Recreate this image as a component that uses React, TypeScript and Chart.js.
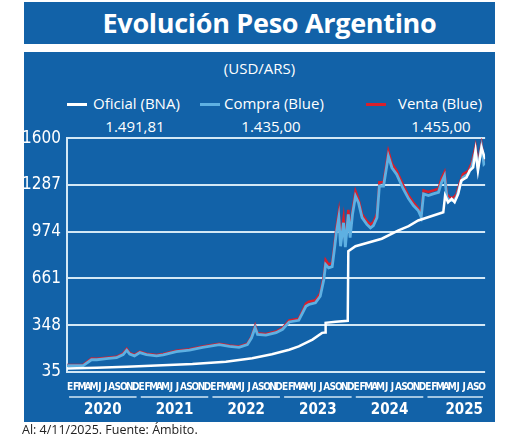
import React, { useEffect, useRef } from "react";
import { Chart, registerables } from "chart.js";

Chart.register(...registerables);

// ---- data ----
const monthLetters = ["E","F","M","A","M","J","J","A","S","O","N","D"];
const years = ["2020", "2021", "2022", "2023", "2024", "2025"];
const yearMonthCounts = [12, 12, 12, 12, 12, 10];
const yTicks = [35, 348, 661, 974, 1287, 1600];

const seriesNames = ["Oficial (BNA)", "Compra (Blue)", "Venta (Blue)"];
const lastValues = ["1.491,81", "1.435,00", "1.455,00"];

// x = months elapsed since 1 Jan 2020
const oficialMonths = [0, 5, 10, 15, 21, 26.6, 31, 34.3, 37.2, 38.8, 41.1, 42.7, 43.2, 43.3, 45, 47.0, 47.1, 48.3, 52.7, 55.5, 57.2, 58.8, 63.0, 63.3, 63.8, 64.4, 64.9, 65.5, 66.0, 66.9, 67.4, 68.0, 68.4, 68.8, 69.4, 70];
const oficialValues = [58, 63, 70, 78, 88, 104, 127, 154, 184, 206, 252, 297, 300, 364, 372, 378, 844, 877, 927, 983, 1011, 1049, 1104, 1216, 1171, 1194, 1171, 1227, 1316, 1338, 1382, 1404, 1515, 1382, 1537, 1460];

const blueMonths = [0, 2.7, 4.1, 5.0, 6.6, 8.3, 9.4, 10.0, 10.5, 11.3, 12.2, 13.3, 15.0, 16.1, 18.3, 20.5, 22.7, 25.5, 27.2, 28.8, 30.2, 30.9, 31.5, 31.9, 33.3, 35.0, 36.1, 37.2, 38.8, 40.0, 40.5, 41.6, 42.4, 43.0, 43.3, 43.8, 44.4, 44.8, 45.1, 45.5, 45.8, 46.3, 46.6, 47.1, 47.4, 47.8, 48.3, 48.8, 49.4, 50.2, 50.8, 51.3, 51.9, 52.3, 53.0, 53.8, 54.4, 55.2, 56.3, 57.2, 58.0, 58.8, 59.3, 59.7, 60.5, 61.3, 62.2, 62.7, 63.2, 63.6, 64.1, 64.7, 65.2, 65.8, 66.3, 67.2, 67.8, 68.4, 68.8, 69.4, 69.8, 70.0];
const compraValues = [78, 78, 117, 117, 124, 131, 152, 181, 155, 143, 165, 152, 143, 150, 172, 181, 200, 218, 207, 200, 218, 264, 333, 287, 282, 298, 321, 370, 381, 475, 487, 498, 542, 654, 755, 732, 740, 867, 967, 1068, 877, 1034, 871, 1090, 934, 1090, 1212, 1168, 1068, 1023, 1000, 1015, 1068, 1280, 1280, 1480, 1402, 1358, 1260, 1194, 1149, 1116, 1071, 1227, 1216, 1227, 1238, 1304, 1349, 1204, 1182, 1182, 1204, 1282, 1338, 1360, 1415, 1515, 1404, 1537, 1427, 1435];
const ventaValues = [82, 84, 125, 124, 130, 137, 160, 190, 162, 150, 171, 158, 149, 156, 178, 187, 206, 224, 213, 206, 225, 272, 345, 294, 289, 306, 330, 380, 392, 492, 505, 515, 560, 680, 785, 755, 765, 895, 1000, 1105, 915, 1065, 905, 1120, 965, 1118, 1245, 1192, 1092, 1045, 1022, 1040, 1092, 1305, 1305, 1512, 1430, 1382, 1285, 1215, 1170, 1132, 1090, 1250, 1240, 1250, 1262, 1330, 1372, 1225, 1202, 1202, 1225, 1305, 1360, 1382, 1440, 1545, 1428, 1560, 1450, 1455];

// ---- styles ----
const BG = "#1262a8";
const GRID = "#d3e8f6";
const COLORS = ["#ffffff", "#5eb0e2", "#d8202c"];
const NARROW = '"Liberation Sans Narrow", "DejaVu Sans Condensed", "Noto Sans", sans-serif';
const SANS = '"Open Sans", "Noto Sans", sans-serif';

const zip = (xs: number[], ys: number[]) => xs.map((x, i) => ({ x, y: ys[i] }));

export default function App() {
  const ref = useRef<HTMLCanvasElement | null>(null);

  useEffect(() => {
    if (!ref.current) return;
    const totalMonths = yearMonthCounts.reduce((a, b) => a + b, 0);
    const yearStarts: number[] = [];
    let acc = 0;
    yearMonthCounts.forEach((c) => { yearStarts.push(acc); acc += c; });

    const yearLines = {
      id: "yearLines",
      afterDraw(chart: any) {
        const s = chart.scales.xYear;
        const ctx = chart.ctx;
        ctx.save();
        ctx.strokeStyle = GRID;
        ctx.lineWidth = 1.5;
        yearStarts.forEach((st, i) => {
          const a = s.getPixelForValue(st + 0.35);
          const b = s.getPixelForValue(st + yearMonthCounts[i] - 0.35);
          const y = s.top + 3;
          ctx.beginPath();
          ctx.moveTo(a, y);
          ctx.lineTo(b, y);
          ctx.stroke();
        });
        ctx.restore();
      },
    };

    const chart = new Chart(ref.current, {
      type: "line",
      data: {
        datasets: [
          { label: seriesNames[0], data: zip(oficialMonths, oficialValues), borderColor: COLORS[0], borderWidth: 2.5, pointRadius: 0, order: 0 },
          { label: seriesNames[1], data: zip(blueMonths, compraValues), borderColor: COLORS[1], borderWidth: 2.8, pointRadius: 0, order: 1 },
          { label: seriesNames[2], data: zip(blueMonths, ventaValues), borderColor: COLORS[2], borderWidth: 2.5, pointRadius: 0, order: 2 },
        ],
      },
      options: {
        animation: false,
        responsive: false,
        layout: { padding: { top: 0, right: 8, left: 0, bottom: 0 } },
        plugins: { legend: { display: false }, tooltip: { enabled: false } },
        scales: {
          y: {
            min: yTicks[0],
            max: yTicks[yTicks.length - 1],
            afterBuildTicks: (s: any) => { s.ticks = yTicks.map((v) => ({ value: v })); },
            afterFit: (s: any) => { s.width = 43; },
            ticks: { color: "#ffffff", padding: 6, font: { family: NARROW, size: 17 }, callback: (v: any) => String(v) },
            grid: { color: GRID, lineWidth: 2, drawTicks: false },
            border: { display: true, color: GRID, width: 2 },
          },
          x: {
            type: "linear",
            position: "bottom",
            weight: 0,
            min: 0,
            max: totalMonths,
            afterBuildTicks: (s: any) => {
              const t: any[] = [];
              yearMonthCounts.forEach((c, yi) => {
                for (let m = 0; m < c; m++) t.push({ value: yearStarts[yi] + m + 0.5, label: monthLetters[m] });
              });
              s.ticks = t;
            },
            afterFit: (s: any) => { s.height = 22; },
            ticks: {
              color: "#ffffff",
              padding: 9,
              autoSkip: false,
              maxRotation: 0,
              minRotation: 0,
              font: { family: NARROW, size: 10, weight: "bold" },
              callback: function (this: any, _v: any, i: number) {
                return this.ticks && this.ticks[i] ? this.ticks[i].label : "";
              },
            },
            grid: { display: false, drawTicks: false },
            border: { display: false },
          },
          xYear: {
            type: "linear",
            position: "bottom",
            weight: 1,
            min: 0,
            max: totalMonths,
            afterBuildTicks: (s: any) => {
              s.ticks = years.map((yl, i) => ({ value: yearStarts[i] + yearMonthCounts[i] / 2 + (i === years.length - 1 ? 1.5 : 0), label: yl }));
            },
            afterFit: (s: any) => { s.height = 28; },
            ticks: {
              color: "#ffffff",
              padding: 7,
              autoSkip: false,
              maxRotation: 0,
              minRotation: 0,
              font: { family: NARROW, size: 15, weight: "bold" },
              callback: function (this: any, _v: any, i: number) {
                return this.ticks && this.ticks[i] ? this.ticks[i].label : "";
              },
            },
            grid: { display: false, drawTicks: false },
            border: { display: false },
          },
        },
      } as any,
      plugins: [yearLines],
    });
    return () => chart.destroy();
  }, []);

  const legendPos = [
    { line: 43, text: 69, value: 111 },
    { line: 176, text: 200, value: 247 },
    { line: 342, text: 374, value: 417 },
  ];

  return (
    <div style={{ position: "absolute", left: 0, top: 0, width: 520, height: 440, background: "#ffffff", fontFamily: SANS }}>
      <div style={{ position: "absolute", left: 24, top: 2, width: 451, paddingLeft: 20, height: 42, background: BG, color: "#fff", fontSize: 27, fontWeight: 700, textAlign: "center", lineHeight: "42px", letterSpacing: "-0.3px" }}>
        Evolución Peso Argentino
      </div>
      <div style={{ position: "absolute", left: 24, top: 52, width: 471, height: 370, background: BG, color: "#fff" }}>
        <div style={{ position: "absolute", left: 0, width: 471, top: 7, textAlign: "center", fontSize: 15, lineHeight: "18px" }}>(USD/ARS)</div>
        {seriesNames.map((n, i) => (
          <React.Fragment key={n}>
            <div style={{ position: "absolute", left: legendPos[i].line, top: 51, width: 20, height: 3, background: COLORS[i] }} />
            <div style={{ position: "absolute", left: legendPos[i].text, top: 41, fontSize: 15, lineHeight: "20px", whiteSpace: "nowrap" }}>{n}</div>
            <div style={{ position: "absolute", left: legendPos[i].value - 60, width: 120, top: 64, textAlign: "center", fontSize: 15, lineHeight: "20px" }}>{lastValues[i]}</div>
          </React.Fragment>
        ))}
        <canvas ref={ref} width={471} height={300} style={{ position: "absolute", left: 0, top: 70, width: 471, height: 300 }} />
      </div>
      <div style={{ position: "absolute", left: 22, top: 422, fontSize: 12.5, lineHeight: "16px", color: "#222" }}>Al: 4/11/2025. Fuente: Ámbito.</div>
    </div>
  );
}
